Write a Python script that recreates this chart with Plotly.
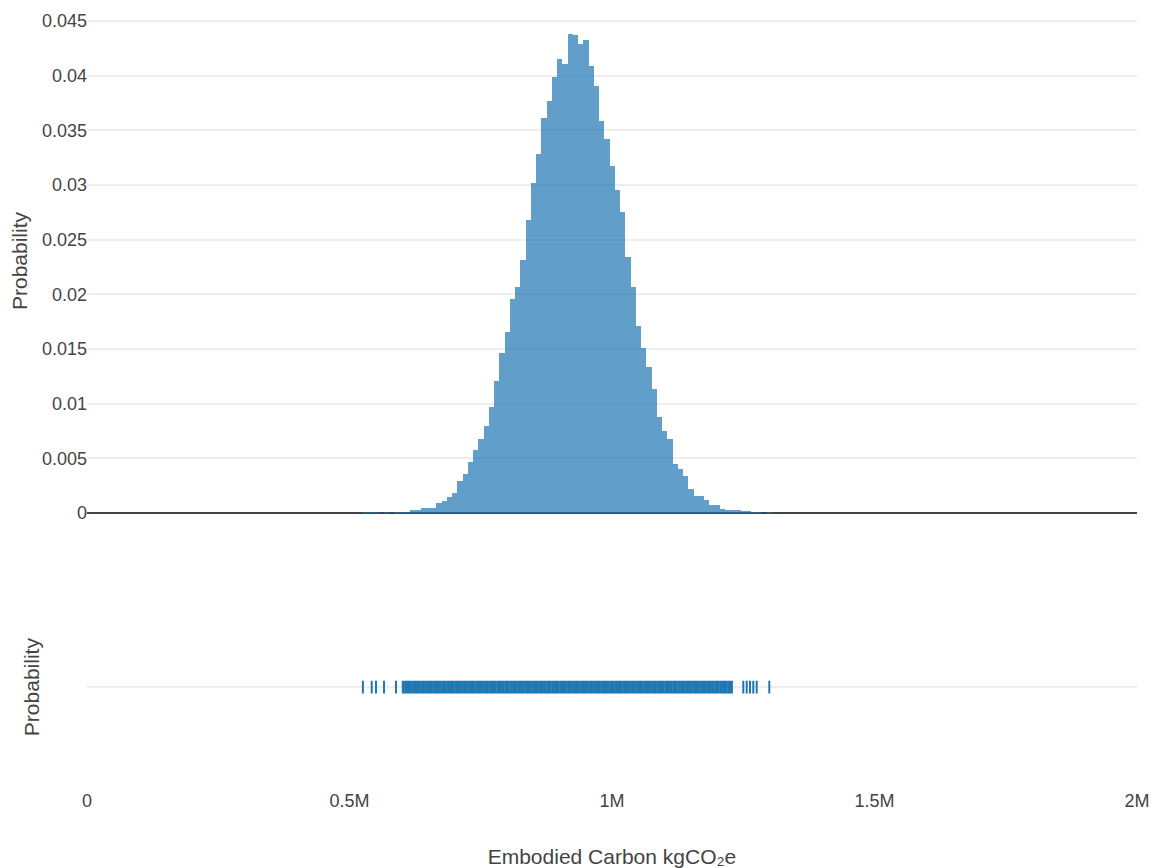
import plotly.graph_objects as go

# ---- data ----
bin_size = 10000
bin_probability = [
    0.0001, 0.0001, 0.0001, 0.0, 0.0001, 0.0, 0.0001, 0.0001, 0.0001, 0.00025,
    0.00025, 0.0005, 0.0005, 0.0005, 0.00095, 0.0011, 0.0015, 0.0018, 0.0029, 0.0036,
    0.0047, 0.0058, 0.0068, 0.0080, 0.0097, 0.0121, 0.0146, 0.0166, 0.0196, 0.0207,
    0.0231, 0.0268, 0.0302, 0.0328, 0.0361, 0.0377, 0.0399, 0.0415, 0.0411, 0.0438,
    0.0437, 0.0429, 0.0433, 0.0409, 0.0391, 0.0359, 0.0342, 0.0317, 0.0295, 0.0275,
    0.0234, 0.0207, 0.0171, 0.0151, 0.0134, 0.0113, 0.0088, 0.0075, 0.0068, 0.0045,
    0.0040, 0.0034, 0.0022, 0.0016, 0.0016, 0.0012, 0.0007, 0.0007, 0.0004, 0.0003,
    0.0003, 0.0003, 0.0002, 0.0002, 0.0001, 0.0001, 0.0, 0.0001,
]

# isolated rug samples in the tails
rug_sparse = [
    525500, 542300, 550500, 565700, 588600,
    1250100, 1256600, 1262900, 1269100, 1275600, 1299600,
]
# samples forming the dense part of the rug
rug_dense = [
    602500, 607500, 612500, 617500, 622500, 627500, 632500, 637500, 642500, 647500,
    652500, 657500, 662500, 667500, 672500, 677500, 682500, 687500, 692500, 697500,
    702500, 707500, 712500, 717500, 722500, 727500, 732500, 737500, 742500, 747500,
    752500, 757500, 762500, 767500, 772500, 777500, 782500, 787500, 792500, 797500,
    802500, 807500, 812500, 817500, 822500, 827500, 832500, 837500, 842500, 847500,
    852500, 857500, 862500, 867500, 872500, 877500, 882500, 887500, 892500, 897500,
    902500, 907500, 912500, 917500, 922500, 927500, 932500, 937500, 942500, 947500,
    952500, 957500, 962500, 967500, 972500, 977500, 982500, 987500, 992500, 997500,
    1002500, 1007500, 1012500, 1017500, 1022500, 1027500, 1032500, 1037500, 1042500, 1047500,
    1052500, 1057500, 1062500, 1067500, 1072500, 1077500, 1082500, 1087500, 1092500, 1097500,
    1102500, 1107500, 1112500, 1117500, 1122500, 1127500, 1132500, 1137500, 1142500, 1147500,
    1152500, 1157500, 1162500, 1167500, 1172500, 1177500, 1182500, 1187500, 1192500, 1197500,
    1202500, 1207500, 1212500, 1217500, 1222500, 1227500,
]

x_ticks = [0, 500000, 1000000, 1500000, 2000000]
x_ticklabels = ["0", "0.5M", "1M", "1.5M", "2M"]
y_ticks = [0, 0.005, 0.01, 0.015, 0.02, 0.025, 0.03, 0.035, 0.04, 0.045]
y_ticklabels = ["0", "0.005", "0.01", "0.015", "0.02", "0.025", "0.03", "0.035", "0.04", "0.045"]

group_label = "Embodied Carbon"
x_title = "Embodied Carbon kgCO\u2082e"
y_title = "Probability"

# ---- figure ----
rug_x = rug_sparse + rug_dense
rug_line_w = [2] * len(rug_sparse) + [3] * len(rug_dense)
bin_start = min(rug_x)
bin_end = bin_start + bin_size * len(bin_probability)
bin_centers = [bin_start + (i + 0.5) * bin_size for i in range(len(bin_probability))]

BLUE = "#1f77b4"
FONT = "Arial, 'Liberation Sans', sans-serif"

fig = go.Figure()
fig.add_trace(go.Histogram(
    x=bin_centers, y=bin_probability, histfunc="sum",
    xbins=dict(start=bin_start, end=bin_end, size=bin_size),
    marker=dict(color=BLUE, line=dict(width=0)), opacity=0.7,
    name=group_label, xaxis="x", yaxis="y",
))
fig.add_trace(go.Scatter(
    x=rug_x, y=[group_label] * len(rug_x), mode="markers",
    marker=dict(symbol="line-ns-open", size=9, color=BLUE,
                line=dict(width=rug_line_w, color=BLUE)),
    name=group_label, xaxis="x", yaxis="y2", showlegend=False,
))

fig.update_layout(
    template="none",
    width=1152, height=868,
    margin=dict(l=87, r=15, t=9, b=80),
    showlegend=False,
    bargap=0,
    paper_bgcolor="white", plot_bgcolor="white",
    font=dict(family=FONT, size=18, color="#444"),
    xaxis=dict(
        domain=[0, 1], anchor="y2", range=[0, 2000000],
        tickvals=x_ticks, ticktext=x_ticklabels,
        showgrid=False, zeroline=False, showline=False, ticks="",
        title=dict(text=x_title, font=dict(size=21), standoff=40),
    ),
    yaxis=dict(
        domain=[0.353, 1], anchor="free", position=0, range=[0, 0.0461],
        tickvals=y_ticks, ticktext=y_ticklabels,
        showgrid=True, gridcolor="#eee", gridwidth=1.5,
        zeroline=True, zerolinecolor="#444", zerolinewidth=1.5,
        showline=False, ticks="",
        title=dict(text=y_title, font=dict(size=21), standoff=7),
    ),
    yaxis2=dict(
        domain=[0, 0.259], anchor="x",
        showticklabels=False, showgrid=True, gridcolor="#eee", gridwidth=1.5,
        zeroline=False, showline=False, ticks="",
        title=dict(text=y_title, font=dict(size=21), standoff=40),
    ),
)

fig.write_html("out.html", config={"displayModeBar": False},
               post_script="document.body.style.margin='0';")
